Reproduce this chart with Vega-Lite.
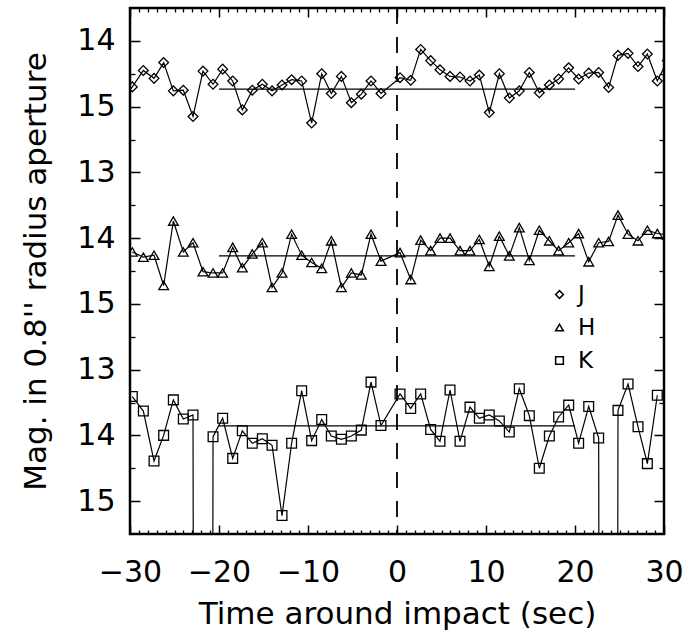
{
  "$schema": "https://vega.github.io/schema/vega-lite/v6.json",
  "width": 534,
  "height": 526,
  "autosize": {"type": "none"},
  "padding": {"left": 130, "top": 8, "right": 24, "bottom": 109},
  "background": "white",
  "config": {
    "font": "DejaVu Sans",
    "view": {"stroke": "black", "strokeWidth": 2.5},
    "axis": {"domain": false, "grid": false, "tickColor": "black", "labelColor": "black", "titleColor": "black", "titleFontWeight": "normal", "labelFlush": false, "labelOverlap": false}
  },
  "datasets": {
    "obs": [
      {"band":"J","t":-30.86,"mag":14.90},{"band":"J","t":-29.74,"mag":14.70},{"band":"J","t":-28.50,"mag":14.45},{"band":"J","t":-27.30,"mag":14.57},{"band":"J","t":-26.22,"mag":14.33},{"band":"J","t":-25.13,"mag":14.76},{"band":"J","t":-24.01,"mag":14.75},{"band":"J","t":-22.92,"mag":15.15},{"band":"J","t":-21.80,"mag":14.46},{"band":"J","t":-20.67,"mag":14.66},{"band":"J","t":-19.59,"mag":14.43},{"band":"J","t":-18.46,"mag":14.61},{"band":"J","t":-17.38,"mag":15.05},{"band":"J","t":-16.26,"mag":14.75},{"band":"J","t":-15.13,"mag":14.66},{"band":"J","t":-14.04,"mag":14.76},{"band":"J","t":-12.92,"mag":14.67},{"band":"J","t":-11.84,"mag":14.59},{"band":"J","t":-10.71,"mag":14.61},{"band":"J","t":-9.59,"mag":15.25},{"band":"J","t":-8.46,"mag":14.50},{"band":"J","t":-7.38,"mag":14.80},{"band":"J","t":-6.25,"mag":14.54},{"band":"J","t":-5.13,"mag":14.94},{"band":"J","t":-4.01,"mag":14.81},{"band":"J","t":-2.92,"mag":14.61},{"band":"J","t":-1.80,"mag":14.80},{"band":"J","t":0.34,"mag":14.56},{"band":"J","t":1.54,"mag":14.60},{"band":"J","t":2.66,"mag":14.13},{"band":"J","t":3.78,"mag":14.30},{"band":"J","t":4.83,"mag":14.44},{"band":"J","t":5.96,"mag":14.54},{"band":"J","t":7.08,"mag":14.55},{"band":"J","t":8.20,"mag":14.61},{"band":"J","t":9.25,"mag":14.52},{"band":"J","t":10.37,"mag":15.09},{"band":"J","t":11.50,"mag":14.50},{"band":"J","t":12.62,"mag":14.87},{"band":"J","t":13.74,"mag":14.76},{"band":"J","t":14.87,"mag":14.48},{"band":"J","t":15.99,"mag":14.79},{"band":"J","t":17.12,"mag":14.67},{"band":"J","t":18.16,"mag":14.58},{"band":"J","t":19.29,"mag":14.41},{"band":"J","t":20.41,"mag":14.58},{"band":"J","t":21.54,"mag":14.49},{"band":"J","t":22.66,"mag":14.48},{"band":"J","t":23.78,"mag":14.71},{"band":"J","t":24.83,"mag":14.22},{"band":"J","t":25.96,"mag":14.19},{"band":"J","t":27.08,"mag":14.39},{"band":"J","t":28.13,"mag":14.20},{"band":"J","t":29.25,"mag":14.61},{"band":"J","t":30.37,"mag":14.30},
      {"band":"H","t":-29.74,"mag":14.21},{"band":"H","t":-28.50,"mag":14.29},{"band":"H","t":-27.30,"mag":14.26},{"band":"H","t":-26.22,"mag":14.72},{"band":"H","t":-25.13,"mag":13.74},{"band":"H","t":-24.01,"mag":14.21},{"band":"H","t":-22.92,"mag":14.07},{"band":"H","t":-21.80,"mag":14.51},{"band":"H","t":-20.67,"mag":14.53},{"band":"H","t":-19.59,"mag":14.53},{"band":"H","t":-18.46,"mag":14.14},{"band":"H","t":-17.38,"mag":14.45},{"band":"H","t":-16.26,"mag":14.24},{"band":"H","t":-15.13,"mag":14.07},{"band":"H","t":-14.04,"mag":14.75},{"band":"H","t":-12.92,"mag":14.53},{"band":"H","t":-11.84,"mag":13.94},{"band":"H","t":-10.71,"mag":14.26},{"band":"H","t":-9.59,"mag":14.37},{"band":"H","t":-8.46,"mag":14.46},{"band":"H","t":-7.38,"mag":14.04},{"band":"H","t":-6.25,"mag":14.75},{"band":"H","t":-5.13,"mag":14.53},{"band":"H","t":-4.01,"mag":14.56},{"band":"H","t":-2.92,"mag":13.94},{"band":"H","t":-1.80,"mag":14.35},{"band":"H","t":0.34,"mag":14.22},{"band":"H","t":1.54,"mag":14.63},{"band":"H","t":2.66,"mag":14.03},{"band":"H","t":3.78,"mag":14.19},{"band":"H","t":4.83,"mag":14.00},{"band":"H","t":5.96,"mag":14.00},{"band":"H","t":7.08,"mag":14.19},{"band":"H","t":8.20,"mag":14.19},{"band":"H","t":9.25,"mag":14.02},{"band":"H","t":10.37,"mag":14.43},{"band":"H","t":11.50,"mag":13.97},{"band":"H","t":12.62,"mag":14.27},{"band":"H","t":13.74,"mag":13.84},{"band":"H","t":14.87,"mag":14.34},{"band":"H","t":15.99,"mag":13.88},{"band":"H","t":17.12,"mag":14.04},{"band":"H","t":18.16,"mag":14.19},{"band":"H","t":19.29,"mag":14.07},{"band":"H","t":20.41,"mag":13.93},{"band":"H","t":21.54,"mag":14.36},{"band":"H","t":22.66,"mag":14.07},{"band":"H","t":23.78,"mag":14.05},{"band":"H","t":24.83,"mag":13.65},{"band":"H","t":25.96,"mag":13.94},{"band":"H","t":27.08,"mag":14.04},{"band":"H","t":28.13,"mag":13.88},{"band":"H","t":29.25,"mag":13.93},{"band":"H","t":30.37,"mag":13.95},
      {"band":"K","t":-29.74,"mag":13.41},{"band":"K","t":-28.50,"mag":13.63},{"band":"K","t":-27.30,"mag":14.39},{"band":"K","t":-26.22,"mag":14.00},{"band":"K","t":-25.13,"mag":13.46},{"band":"K","t":-24.01,"mag":13.75},{"band":"K","t":-22.92,"mag":13.69},{"band":"K","t":-21.80,"mag":99},{"band":"K","t":-20.67,"mag":14.02},{"band":"K","t":-19.59,"mag":13.74},{"band":"K","t":-18.46,"mag":14.35},{"band":"K","t":-17.38,"mag":13.93},{"band":"K","t":-16.26,"mag":14.12},{"band":"K","t":-15.13,"mag":14.05},{"band":"K","t":-14.04,"mag":14.15},{"band":"K","t":-12.92,"mag":15.22},{"band":"K","t":-11.84,"mag":14.12},{"band":"K","t":-10.71,"mag":13.32},{"band":"K","t":-9.59,"mag":14.08},{"band":"K","t":-8.46,"mag":13.76},{"band":"K","t":-7.38,"mag":14.01},{"band":"K","t":-6.25,"mag":14.06},{"band":"K","t":-5.13,"mag":14.01},{"band":"K","t":-4.01,"mag":13.92},{"band":"K","t":-2.92,"mag":13.19},{"band":"K","t":-1.80,"mag":13.85},{"band":"K","t":0.34,"mag":13.37},{"band":"K","t":1.54,"mag":13.59},{"band":"K","t":2.66,"mag":13.37},{"band":"K","t":3.78,"mag":13.91},{"band":"K","t":4.83,"mag":14.09},{"band":"K","t":5.96,"mag":13.31},{"band":"K","t":7.08,"mag":14.09},{"band":"K","t":8.20,"mag":13.57},{"band":"K","t":9.25,"mag":13.74},{"band":"K","t":10.37,"mag":13.69},{"band":"K","t":11.50,"mag":13.78},{"band":"K","t":12.62,"mag":13.95},{"band":"K","t":13.74,"mag":13.29},{"band":"K","t":14.87,"mag":13.70},{"band":"K","t":15.99,"mag":14.50},{"band":"K","t":17.12,"mag":14.01},{"band":"K","t":18.16,"mag":13.72},{"band":"K","t":19.29,"mag":13.54},{"band":"K","t":20.41,"mag":14.12},{"band":"K","t":21.54,"mag":13.56},{"band":"K","t":22.66,"mag":14.04},{"band":"K","t":23.78,"mag":99},{"band":"K","t":24.83,"mag":13.62},{"band":"K","t":25.96,"mag":13.22},{"band":"K","t":27.08,"mag":13.87},{"band":"K","t":28.13,"mag":14.43},{"band":"K","t":29.25,"mag":13.39}
    ],
    "means": [
      {"band":"J","t0":-20,"t1":20,"mag":14.735},
      {"band":"H","t0":-20,"t1":20,"mag":14.27},
      {"band":"K","t0":-20,"t1":20,"mag":13.855}
    ],
    "impact": [{"t":0}]
  },
  "resolve": {"axis": {"x": "independent", "y": "independent"}},
  "layer": [
    {
      "data": {"name": "obs"},
      "transform": [{"calculate": "datum.mag - (datum.band == 'J' ? 14 : datum.band == 'H' ? 11 : 8)", "as": "pos"}],
      "mark": {"type": "line", "clip": true, "color": "black", "strokeWidth": 1.2},
      "encoding": {
        "x": {"field": "t", "type": "quantitative", "scale": {"domain": [-30, 30], "nice": false, "zero": false},
          "axis": {"orient": "bottom", "values": [-30,-20,-10,0,10,20,30], "tickSize": -9, "tickWidth": 1.5, "labelFontSize": 30, "labelPadding": 32,
            "labelExpr": "datum.value < 0 ? '\u2212' + abs(datum.value) : '' + datum.value",
            "title": "Time around impact (sec)", "titleFontSize": 31, "titlePadding": 12}},
        "y": {"field": "pos", "type": "quantitative", "scale": {"domain": [-0.5, 7.5], "reverse": true, "nice": false, "zero": false},
          "axis": {"orient": "left", "values": [0,1,2,3,4,5,6,7], "tickSize": -10, "tickWidth": 1.5, "labelFontSize": 30, "labelPadding": 25,
            "labelExpr": "datum.value % 3 == 0 ? '14' : datum.value % 3 == 1 ? '15' : '13'",
            "title": "Mag. in 0.8'' radius aperture", "titleFontSize": 31, "titlePadding": 24}},
        "detail": {"field": "band"}
      }
    },
    {
      "data": {"name": "obs"},
      "transform": [{"calculate": "datum.mag - (datum.band == 'J' ? 14 : datum.band == 'H' ? 11 : 8)", "as": "pos"}],
      "mark": {"type": "point", "clip": true, "filled": false, "color": "black", "strokeWidth": 1.3, "size": 95, "opacity": 1},
      "encoding": {
        "x": {"field": "t", "type": "quantitative",
          "axis": {"orient": "top", "values": [-30,-20,-10,0,10,20,30], "tickSize": -9, "tickWidth": 1.5, "labels": false, "title": null}},
        "y": {"field": "pos", "type": "quantitative",
          "axis": {"orient": "right", "values": [0,1,2,3,4,5,6,7], "tickSize": -10, "tickWidth": 1.5, "labels": false, "title": null}},
        "shape": {"field": "band", "type": "nominal",
          "scale": {"domain": ["J","H","K"], "range": ["diamond","triangle-up","square"]},
          "legend": {"orient": "none", "legendX": 418, "legendY": 275, "title": null, "padding": 0, "labelFontSize": 23, "labelColor": "black", "rowPadding": 9, "labelOffset": 7, "symbolOpacity": 1, "symbolSize": 60}}
      }
    },
    {
      "data": {"name": "means"},
      "transform": [{"calculate": "datum.mag - (datum.band == 'J' ? 14 : datum.band == 'H' ? 11 : 8)", "as": "pos"}],
      "mark": {"type": "rule", "color": "black", "strokeWidth": 1.2},
      "encoding": {
        "x": {"field": "t0", "type": "quantitative",
          "axis": {"orient": "bottom", "values": [-29,-28,-27,-26,-25,-24,-23,-22,-21,-19,-18,-17,-16,-15,-14,-13,-12,-11,-9,-8,-7,-6,-5,-4,-3,-2,-1,1,2,3,4,5,6,7,8,9,11,12,13,14,15,16,17,18,19,21,22,23,24,25,26,27,28,29], "tickSize": -4, "tickWidth": 1.3, "labels": false, "title": null}},
        "x2": {"field": "t1"},
        "y": {"field": "pos", "type": "quantitative",
          "axis": {"orient": "left", "values": [0.5,1.5,2.5,3.5,4.5,5.5,6.5], "tickSize": -5, "tickWidth": 1.3, "labels": false, "title": null}}
      }
    },
    {
      "data": {"name": "impact"},
      "mark": {"type": "rule", "color": "black", "strokeWidth": 1.8, "strokeDash": [16, 13]},
      "encoding": {
        "x": {"field": "t", "type": "quantitative",
          "axis": {"orient": "top", "values": [-29,-28,-27,-26,-25,-24,-23,-22,-21,-19,-18,-17,-16,-15,-14,-13,-12,-11,-9,-8,-7,-6,-5,-4,-3,-2,-1,1,2,3,4,5,6,7,8,9,11,12,13,14,15,16,17,18,19,21,22,23,24,25,26,27,28,29], "tickSize": -4, "tickWidth": 1.3, "labels": false, "title": null}}
      }
    },
    {
      "data": {"name": "means"},
      "transform": [{"calculate": "datum.mag - (datum.band == 'J' ? 14 : datum.band == 'H' ? 11 : 8)", "as": "pos"}],
      "mark": {"type": "tick", "opacity": 0},
      "encoding": {
        "y": {"field": "pos", "type": "quantitative",
          "axis": {"orient": "right", "values": [0.5,1.5,2.5,3.5,4.5,5.5,6.5], "tickSize": -5, "tickWidth": 1.3, "labels": false, "title": null}}
      }
    }
  ]
}
